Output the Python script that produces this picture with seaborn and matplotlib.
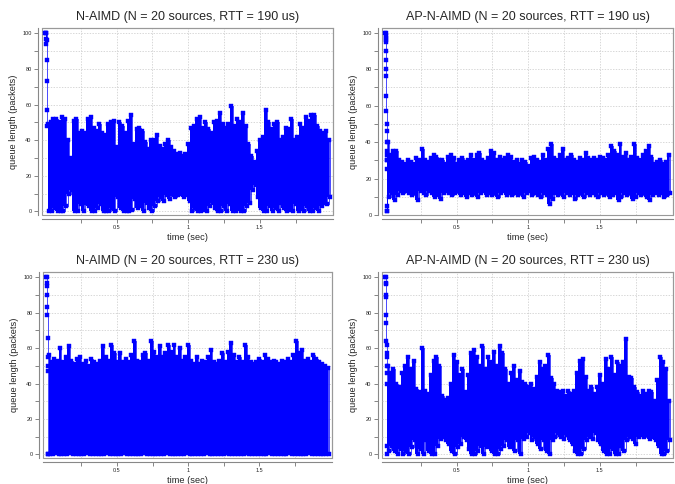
import numpy as np
import pandas as pd
import matplotlib
matplotlib.use("Agg")
import matplotlib.pyplot as plt
import seaborn as sns

sns.set_style("white")
plt.rcParams['font.family'] = ['Liberation Sans', 'DejaVu Sans']

# sampling instants of the envelope readings (sec)
t_grid = np.round(np.arange(0.02, 1.985, 0.02), 2)

# ---- N-AIMD, RTT = 190 us
tl_start = [100, 97, 100, 94, 100, 96, 85, 73, 57, 48]
tl_upper = [49, 50, 52, 52, 50, 53, 52, 40, 30, 51, 52, 44, 45, 44, 52, 53, 47, 45, 49, 44,
            43, 49, 50, 51, 36, 50, 48, 44, 51, 54, 38, 46, 47, 45, 39, 35, 40, 40, 43, 37,
            35, 38, 40, 36, 34, 32, 33, 31, 32, 38, 47, 48, 52, 53, 47, 50, 46, 44, 50, 51,
            55, 49, 47, 49, 59, 48, 52, 50, 55, 48, 38, 31, 28, 34, 40, 42, 57, 50, 46, 49,
            50, 40, 42, 47, 46, 52, 40, 42, 49, 47, 53, 51, 54, 54, 48, 45, 44, 45, 40]
tl_lower = [0, 0, 2, 0, 0, 0, 3, 10, 12, 0, 0, 4, 0, 5, 3, 0, 0, 2, 4, 0,
            0, 0, 2, 0, 8, 2, 0, 0, 0, 1, 7, 2, 3, 0, 5, 2, 0, 3, 6, 8,
            6, 9, 7, 10, 8, 9, 10, 8, 9, 6, 0, 2, 0, 0, 1, 0, 3, 5, 2, 0,
            0, 3, 0, 4, 0, 0, 2, 0, 0, 3, 5, 12, 15, 8, 2, 0, 0, 3, 0, 2,
            0, 5, 2, 0, 1, 0, 4, 0, 2, 0, 3, 0, 0, 2, 0, 3, 5, 4, 8]

# ---- AP-N-AIMD, RTT = 190 us
tr_start = [100, 98, 100, 96, 97, 95, 90, 85, 80, 76, 65, 57, 50, 46, 40, 35, 30, 2, 25, 5, 30, 2, 33]
tr_upper = [40, 33, 35, 35, 30, 29, 28, 30, 29, 28, 31, 30, 36, 30, 29, 31, 33, 32, 30, 30,
            28, 32, 33, 31, 28, 30, 31, 29, 30, 33, 30, 33, 34, 30, 29, 31, 35, 34, 30, 32,
            30, 31, 33, 32, 29, 30, 28, 30, 29, 27, 31, 32, 30, 29, 33, 30, 36, 39, 31, 30,
            33, 36, 30, 31, 33, 30, 29, 31, 30, 34, 31, 30, 31, 30, 32, 31, 30, 33, 38, 35,
            33, 39, 32, 34, 30, 32, 39, 31, 30, 33, 35, 38, 32, 28, 29, 30, 28, 29, 33]
tr_lower = [10, 12, 8, 11, 13, 12, 13, 12, 11, 12, 8, 13, 12, 11, 13, 12, 10, 11, 9, 12,
            13, 12, 11, 12, 13, 11, 12, 10, 12, 11, 12, 10, 12, 13, 11, 12, 11, 12, 10, 12,
            13, 11, 12, 11, 12, 11, 12, 10, 12, 13, 11, 12, 11, 10, 12, 11, 6, 9, 12, 11,
            12, 10, 12, 11, 12, 9, 11, 12, 10, 12, 11, 12, 11, 10, 12, 11, 12, 10, 11, 12,
            8, 10, 12, 11, 12, 9, 10, 12, 11, 12, 10, 8, 11, 12, 11, 12, 10, 11, 12]

# ---- N-AIMD, RTT = 230 us
bl_start = [100, 97, 100, 95, 90, 83, 79, 66, 55, 47, 0, 50, 0]
bl_upper = [56, 52, 54, 53, 60, 52, 55, 61, 53, 51, 54, 55, 51, 53, 50, 54, 52, 51, 53, 61,
            55, 53, 62, 57, 52, 57, 52, 54, 52, 56, 64, 53, 52, 56, 57, 53, 64, 58, 55, 61,
            55, 57, 62, 58, 62, 55, 60, 53, 55, 62, 53, 51, 55, 51, 53, 52, 55, 59, 52, 51,
            53, 57, 52, 58, 63, 56, 52, 55, 52, 62, 55, 52, 51, 52, 54, 52, 56, 54, 52, 53,
            52, 51, 53, 52, 54, 52, 56, 64, 57, 59, 53, 54, 52, 56, 54, 52, 51, 50, 49]
bl_lower = [0, 0, 1, 0, 0, 0, 0, 1, 0, 0, 0, 0, 0, 1, 0, 0, 0, 0, 0, 0,
            1, 0, 0, 0, 0, 0, 1, 0, 0, 0, 0, 0, 0, 1, 0, 0, 0, 0, 0, 0,
            0, 1, 0, 0, 0, 0, 0, 0, 1, 0, 0, 0, 0, 0, 0, 1, 0, 0, 0, 0,
            0, 0, 1, 0, 0, 0, 0, 0, 0, 1, 0, 0, 0, 0, 0, 0, 0, 1, 0, 0,
            0, 0, 0, 0, 1, 0, 0, 0, 0, 0, 0, 1, 0, 0, 0, 0, 0, 0, 0]

# ---- AP-N-AIMD, RTT = 230 us
br_start = [100, 97, 100, 96, 90, 89, 79, 74, 64, 62, 57, 55, 50, 0, 46, 5, 40]
br_upper = [50, 46, 48, 40, 38, 46, 50, 55, 48, 53, 37, 35, 60, 36, 34, 45, 53, 55, 50, 33,
            31, 32, 40, 56, 52, 45, 48, 35, 45, 57, 59, 55, 50, 61, 48, 55, 52, 58, 50, 61,
            57, 48, 40, 46, 50, 42, 47, 41, 40, 38, 40, 37, 44, 52, 48, 50, 56, 43, 40, 36,
            35, 36, 33, 36, 34, 36, 46, 53, 54, 44, 36, 38, 34, 38, 45, 40, 54, 48, 55, 45,
            52, 50, 52, 65, 44, 43, 38, 35, 33, 36, 34, 36, 35, 30, 42, 55, 52, 48, 30]
br_lower = [2, 5, 2, 0, 3, 0, 2, 0, 4, 8, 0, 3, 0, 8, 2, 0, 0, 5, 9, 10,
            8, 6, 2, 0, 4, 6, 10, 8, 3, 0, 0, 2, 5, 0, 4, 6, 2, 0, 0, 3,
            5, 8, 4, 6, 2, 8, 0, 9, 10, 12, 8, 10, 6, 3, 8, 2, 0, 8, 10, 12,
            10, 9, 11, 8, 6, 2, 0, 0, 3, 8, 10, 9, 12, 8, 6, 2, 0, 0, 3, 0,
            0, 5, 2, 8, 10, 9, 6, 10, 12, 10, 11, 9, 10, 8, 5, 0, 0, 2, 8]

BLUE = "#0000ff"


def series(start, upper, lower):
    t = list(np.linspace(0.004, 0.018, len(start)))
    q = list(start)
    for ti, u, l in zip(t_grid, upper, lower):
        t += [ti, ti + 0.01]
        q += [u, l]
    return pd.DataFrame({"time": t, "queue": q})


def panel(ax, title, start, upper, lower, ylim):
    df = series(start, upper, lower)
    ax.fill_between(t_grid, lower, upper, color=BLUE, lw=0, step="mid", zorder=2)
    sns.lineplot(data=df, x="time", y="queue", ax=ax, color=BLUE, lw=0.5,
                 drawstyle="steps-post",
                 marker="s", markersize=2.4, markeredgewidth=0.3,
                 markeredgecolor=BLUE, markerfacecolor=BLUE,
                 sort=False, estimator=None, zorder=3)
    ax.set_xlim(-0.02, 2.01)
    ax.set_ylim(*ylim)
    ax.set_xticks([0.25, 0.5, 0.75, 1, 1.25, 1.5, 1.75])
    ax.set_xticklabels(["", "0.5", "", "1", "", "1.5", ""])
    yt = list(range(0, 101, 10))
    ax.set_yticks(yt)
    ax.set_yticklabels([str(v) if v % 20 == 0 else "" for v in yt])
    ax.grid(True, ls=(0, (2, 2)), color="#c8c8c8", lw=0.5)
    ax.set_axisbelow(True)
    ax.tick_params(labelsize=4, length=3, width=0.5, color="#555555", direction="out",
                   left=True, bottom=True, pad=1.5)
    for s in ["left", "bottom"]:
        ax.spines[s].set_position(("outward", 3))
        ax.spines[s].set_color("#888888")
        ax.spines[s].set_linewidth(0.8)
    for s in ["top", "right"]:
        ax.spines[s].set_color("#999999")
        ax.spines[s].set_linewidth(0.8)
    ax.patch.set_edgecolor("#999999")
    ax.patch.set_linewidth(0.8)
    ax.set_title(title, fontsize=9, pad=6)
    ax.set_xlabel("time (sec)", fontsize=6.7, labelpad=2)
    ax.set_ylabel("queue length (packets)", fontsize=6.7, labelpad=3)


fig = plt.figure(figsize=(6.75, 4.84), dpi=100)
ax_tl = fig.add_axes([0.0622, 0.5558, 0.4311, 0.3864])
ax_tr = fig.add_axes([0.5659, 0.5558, 0.4311, 0.3864])
ax_bl = fig.add_axes([0.0637, 0.0537, 0.4280, 0.3843])
ax_br = fig.add_axes([0.5659, 0.0537, 0.4311, 0.3843])

panel(ax_tl, "N-AIMD (N = 20 sources, RTT = 190 us)", tl_start, tl_upper, tl_lower, (-2, 103))
panel(ax_tr, "AP-N-AIMD (N = 20 sources, RTT = 190 us)", tr_start, tr_upper, tr_lower, (0.5, 102.5))
panel(ax_bl, "N-AIMD (N = 20 sources, RTT = 230 us)", bl_start, bl_upper, bl_lower, (-2, 103))
panel(ax_br, "AP-N-AIMD (N = 20 sources, RTT = 230 us)", br_start, br_upper, br_lower, (-2, 103))

fig.savefig("out.png", dpi=100)
